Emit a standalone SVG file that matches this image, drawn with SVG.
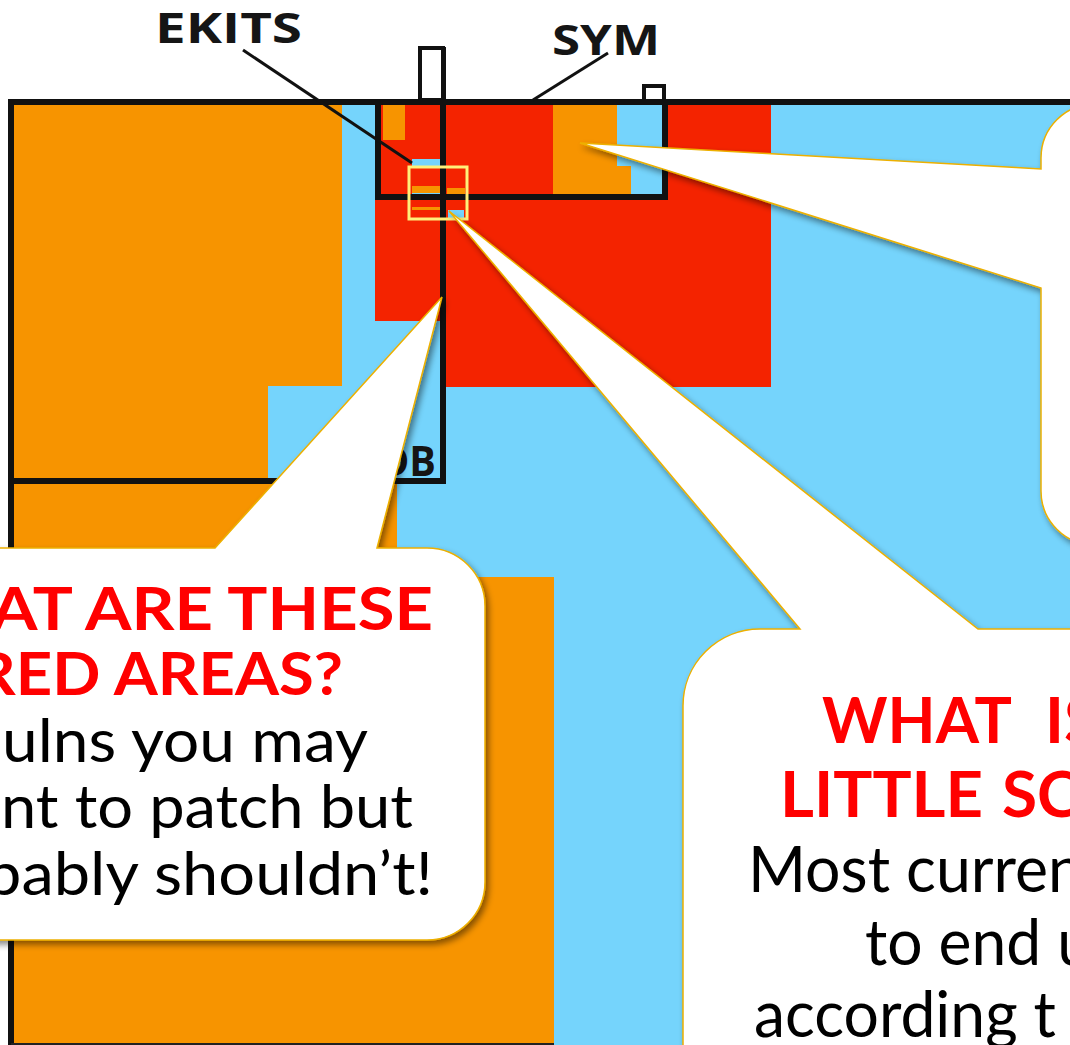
<svg xmlns="http://www.w3.org/2000/svg" width="1070" height="1045" viewBox="0 0 1070 1045">
  <style>
    .blue { fill: #75D4FC; }
    .orange { fill: #F79400; }
    .red { fill: #F42300; }
    .frame { fill: none; stroke: #111; stroke-width: 6; }
    .thin { fill: #fff; stroke: #111; stroke-width: 4; }
    .leader { stroke: #111; stroke-width: 3; fill: none; }
    .tag { font-family: "Open Sans", "DejaVu Sans", sans-serif; font-weight: 700; fill: #151515; }
    .bubble { fill: #fff; stroke: #EDB000; stroke-width: 1.5; filter: url(#shadow); }
    .head { font-family: Lato, "Open Sans", sans-serif; font-weight: 700; fill: #FF0000; }
    .body { font-family: Lato, "Open Sans", sans-serif; font-weight: 400; fill: #000; }
  </style>
  <defs>
    <filter id="shadow" x="-20%" y="-20%" width="140%" height="140%">
      <feDropShadow dx="3" dy="4" stdDeviation="3" flood-color="#000" flood-opacity="0.45"/>
    </filter>
  </defs>

  <rect width="1070" height="1045" fill="#fff"/>

  <!-- coloured memory map -->
  <g id="map">
    <rect class="blue" x="11" y="102" width="1059" height="943"/>
    <polygon class="orange" points="11,102 342,102 342,386 268,386 268,481 397,481 397,577 554,577 554,1045 11,1045"/>
    <rect class="red" x="375" y="102" width="68" height="219"/>
    <rect class="red" x="443" y="102" width="328" height="285"/>
    <!-- inside the EKITS block -->
    <rect class="orange" x="383" y="104" width="22" height="36"/>
    <rect class="orange" x="553" y="102" width="64" height="95"/>
    <rect class="blue" x="617" y="102" width="48" height="95"/>
    <rect class="orange" x="617" y="166" width="14" height="31"/>
    <rect class="blue" x="412" y="159" width="29" height="8"/>
    <rect class="orange" x="412" y="186" width="29" height="7"/>
    <rect class="blue" x="412" y="193" width="29" height="2"/>
    <rect class="orange" x="447" y="188" width="18" height="6"/>
    <rect class="orange" x="412" y="207" width="29" height="3"/>
    <rect class="blue" x="448" y="210" width="16" height="8"/>
  </g>

  <!-- outlines of the mapped sections -->
  <g id="frame">
    <line class="frame" x1="8" y1="102" x2="1070" y2="102"/>
    <line class="frame" x1="11" y1="99" x2="11" y2="1045"/>
    <line x1="11" y1="1044" x2="554" y2="1044" stroke="#222" stroke-width="2"/>
    <rect class="frame" x="378" y="102" width="287" height="95"/>
    <line class="frame" x1="11" y1="481" x2="446" y2="481"/>
    <line class="frame" x1="443" y1="47" x2="443" y2="484"/>
    <rect class="thin" x="420" y="48" width="23" height="52"/>
    <rect class="thin" x="644" y="86" width="20" height="15"/>
    <rect x="409" y="167" width="58" height="52" fill="none" stroke="#FFF07A" stroke-width="3"/>
  </g>

  <!-- section labels -->
  <g id="label-ekits">
    <text class="tag" x="155" y="43" font-size="42" textLength="147" lengthAdjust="spacingAndGlyphs">EKITS</text>
  </g>
  <g id="label-sym">
    <text class="tag" x="552" y="55" font-size="42" textLength="108" lengthAdjust="spacingAndGlyphs">SYM</text>
  </g>
  <g id="label-db">
    <text class="tag" x="380" y="476" font-size="41" textLength="56" lengthAdjust="spacingAndGlyphs">DB</text>
  </g>

  <!-- leader lines from labels -->
  <g id="leaders">
    <line class="leader" x1="243" y1="50" x2="412" y2="163"/>
    <line class="leader" x1="608" y1="53" x2="533" y2="100"/>
  </g>

  <!-- speech bubbles -->
  <g id="callout-top">
    <path class="bubble" d="M1130,104 H1095 A54,54 0 0 0 1041,158 V169 L580,143 L1041,288 V491 A54,54 0 0 0 1095,545 H1130 Z"/>
  </g>

  <g id="callout-red-areas">
    <path class="bubble" d="M-60,548 H215 L442,297 L377,548 H427 A58,58 0 0 1 485,606 V882 A58,58 0 0 1 427,940 H-60 Z"/>
    <text class="head" font-size="60" x="-9" y="630" textLength="442" lengthAdjust="spacingAndGlyphs">AT ARE THESE</text>
    <text class="head" font-size="60" x="-25" y="695" textLength="368" lengthAdjust="spacingAndGlyphs">RED AREAS?</text>
    <text class="body" font-size="60" x="2" y="762" textLength="366" lengthAdjust="spacingAndGlyphs">ulns you may</text>
    <text class="body" font-size="60" x="1" y="828" textLength="412" lengthAdjust="spacingAndGlyphs">nt to patch but</text>
    <text class="body" font-size="60" x="-15" y="895" textLength="448" lengthAdjust="spacingAndGlyphs">bably shouldn’t!</text>
  </g>

  <g id="callout-little-square">
    <path class="bubble" d="M760,629 H800 L449,211 L978,629 H1130 V1100 H683 V706 A77,77 0 0 1 760,629 Z"/>
    <text class="head" font-size="64" y="743"><tspan x="822" textLength="190" lengthAdjust="spacingAndGlyphs">WHAT</tspan><tspan x="1045">IS</tspan></text>
    <text class="head" font-size="64" y="817"><tspan x="780" textLength="203" lengthAdjust="spacingAndGlyphs">LITTLE</tspan><tspan x="1002">SC</tspan></text>
    <text class="body" font-size="64" x="748" y="892" textLength="335" lengthAdjust="spacingAndGlyphs">Most curren</text>
    <text class="body" font-size="64" x="865" y="965" textLength="227" lengthAdjust="spacingAndGlyphs">to end u</text>
    <text class="body" font-size="64" x="754" y="1037" textLength="302" lengthAdjust="spacingAndGlyphs">according t</text>
  </g>
</svg>
